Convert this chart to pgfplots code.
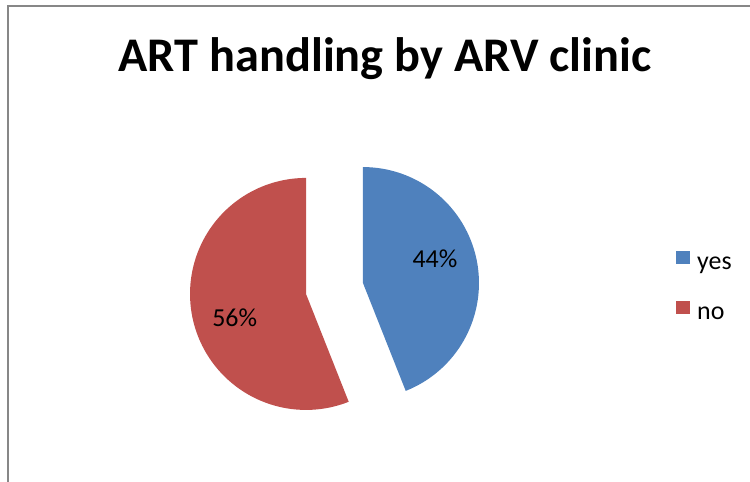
\documentclass[border=0pt]{standalone}
\usepackage{fontspec}
\setmainfont{Carlito}
\usepackage{pgfplots}
\usepackage{pgfplotstable}
\pgfplotsset{compat=1.18}
\definecolor{pieblue}{HTML}{4F81BD}
\definecolor{piered}{HTML}{C0504D}
\definecolor{framegray}{HTML}{878787}

\pgfplotstableread{
label value
yes 44
no 56
}\piedata

\begin{document}%
\begin{tikzpicture}
\pgfplotstablegetelem{0}{value}\of\piedata \let\vyes\pgfplotsretval
\pgfplotstablegetelem{1}{value}\of\piedata \let\vno\pgfplotsretval
\pgfmathsetmacro\aA{90}
\pgfmathsetmacro\aB{90-3.6*\vyes}
\pgfmathsetmacro\aC{\aB-3.6*\vno}
\pgfmathsetmacro\mA{(\aA+\aB)/2}
\pgfmathsetmacro\mB{(\aB+\aC)/2}
\def\R{116}
\def\cx{334.5}
\def\cy{193.5}
\def\ex{29}
\pgfmathsetmacro\bx{\cx+\ex*cos(\mA)}
\pgfmathsetmacro\by{\cy+\ex*sin(\mA)}
\pgfmathsetmacro\rx{\cx+\ex*cos(\mB)}
\pgfmathsetmacro\ry{\cy+\ex*sin(\mB)}
\begin{axis}[
  hide axis, scale only axis,
  width=750bp, height=482bp,
  xmin=0, xmax=750, ymin=0, ymax=482,
  clip=false,
  legend image code/.code={\fill[#1] (0bp,-1bp) rectangle (14bp,12bp);},
  legend style={draw=none, fill=none, at={(axis cs:676,194)}, anchor=west,
    inner sep=0pt, row sep=26bp, font=\fontsize{26}{31}\selectfont,
    nodes={inner sep=0pt, text height=18bp, text depth=5bp},
    /tikz/every odd column/.style={column sep=7bp}},
  legend cell align=left,
]
\addplot[fill=pieblue, draw=none, domain=\aA:\aB, samples=90, variable=\t]
  ({\bx+\R*cos(\t)},{\by+\R*sin(\t)}) -- (\bx,\by) -- cycle;
\addlegendentry{yes}
\addplot[fill=piered, draw=none, domain=\aB:\aC, samples=110, variable=\t]
  ({\rx+\R*cos(\t)},{\ry+\R*sin(\t)}) -- (\rx,\ry) -- cycle;
\addlegendentry{no}
\node[anchor=base, font=\fontsize{26}{31}\selectfont] at (axis cs:435,214) {44\%};
\node[anchor=base, font=\fontsize{26}{31}\selectfont] at (axis cs:234.7,155) {56\%};
\node[anchor=base, font=\bfseries\fontsize{48.5}{58}\selectfont] at (axis cs:385,410) {ART handling by ARV clinic};
\draw[framegray, line width=2bp] (axis cs:8.2,0) -- (axis cs:8.2,476) -- (axis cs:750,476);
\end{axis}
\pgfresetboundingbox
\path (0,0) rectangle (750bp,482bp);
\end{tikzpicture}%
\end{document}
